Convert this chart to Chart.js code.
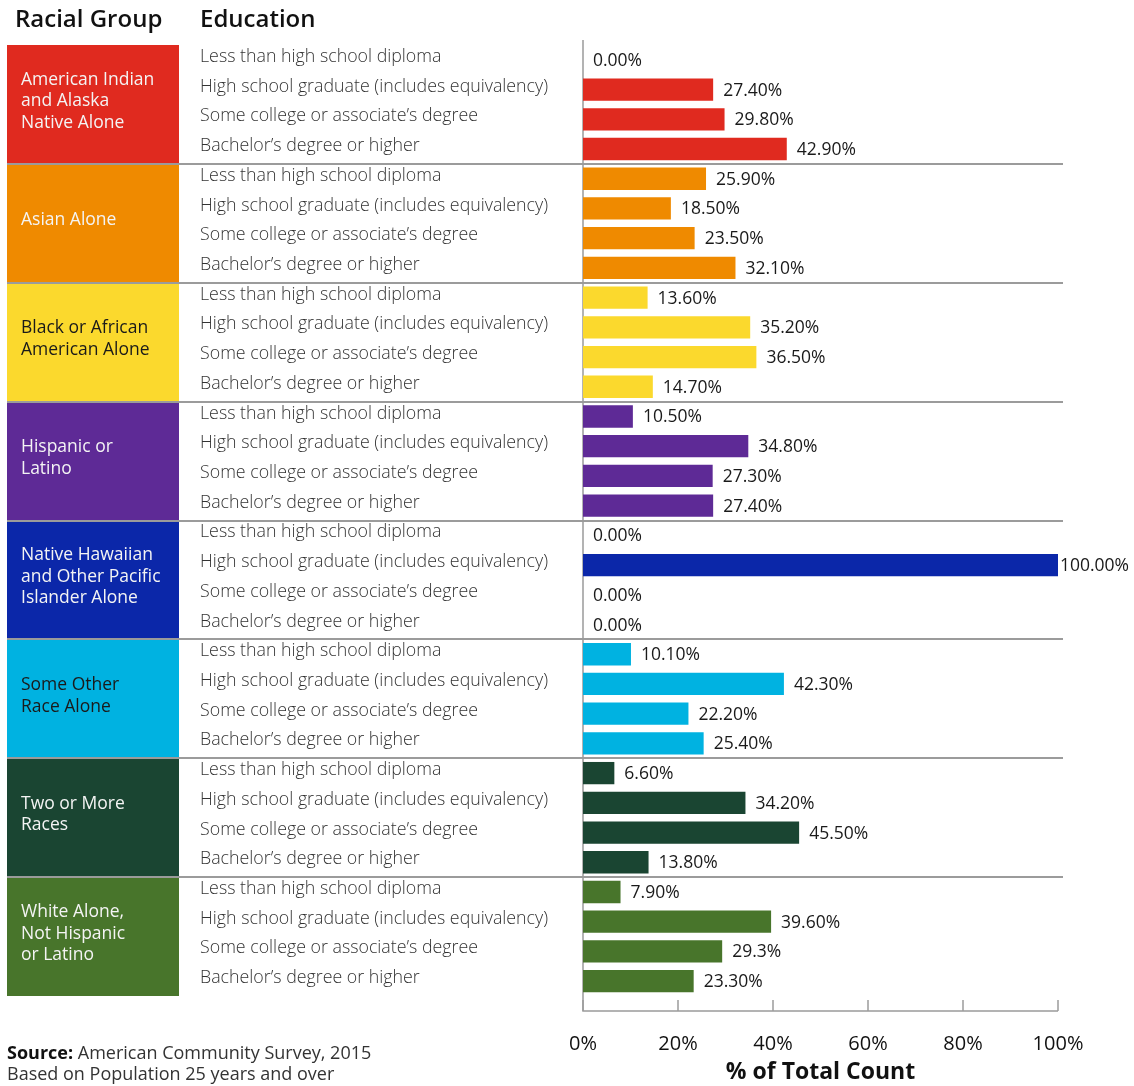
<!DOCTYPE html>
<html>
<head>
<meta charset="utf-8">
<script src="https://cdn.jsdelivr.net/npm/chart.js@4.4.1/dist/chart.umd.min.js"></script>
<style>
  html, body { margin: 0; padding: 0; background: #fff; }
  #wrap { position: relative; width: 1134px; height: 1086px; }
</style>
</head>
<body>
<div id="wrap"><canvas id="eduChart" width="1134" height="1086"></canvas></div>
<script>
// Educational attainment by racial group (ACS 2015)
const educationLevels = [
  "Less than high school diploma",
  "High school graduate (includes equivalency)",
  "Some college or associate’s degree",
  "Bachelor’s degree or higher",
]
const groupNames = [
  ["American Indian", "and Alaska", "Native Alone"],
  ["Asian Alone"],
  ["Black or African", "American Alone"],
  ["Hispanic or", "Latino"],
  ["Native Hawaiian", "and Other Pacific", "Islander Alone"],
  ["Some Other", "Race Alone"],
  ["Two or More", "Races"],
  ["White Alone,", "Not Hispanic", "or Latino"],
]
const groupColors = ["#e02a1f", "#ef8a00", "#fbd92d", "#5e2a96", "#0b27a9", "#00b2e1", "#1a4532", "#48752b"]
const groupTextColors = ["#f4f4f4", "#f4f4f4", "#1a1a1a", "#f4f4f4", "#f4f4f4", "#1a1a1a", "#f4f4f4", "#f4f4f4"]

const americanIndian = [0, 27.4, 29.8, 42.9]
const asian = [25.9, 18.5, 23.5, 32.1]
const black = [13.6, 35.2, 36.5, 14.7]
const hispanic = [10.5, 34.8, 27.3, 27.4]
const nativeHawaiian = [0, 100, 0, 0]
const someOther = [10.1, 42.3, 22.2, 25.4]
const twoOrMore = [6.6, 34.2, 45.5, 13.8]
const white = [7.9, 39.6, 29.3, 23.3]

const xTicks = [0, 20, 40, 60, 80, 100]
// one label in the original is printed with a single decimal
const labelOverrides = { 30: "29.3%" }

const groups = [americanIndian, asian, black, hispanic, nativeHawaiian, someOther, twoOrMore, white]
const values = groups.flat()
const rowLabels = groups.flatMap(() => educationLevels)
const barColors = groups.flatMap((g, i) => g.map(() => groupColors[i]))

const GRAY = "#9b9b9b"

const decorPlugin = {
  id: "decor",
  beforeDatasetsDraw(chart) {
    const { ctx, chartArea, scales } = chart
    const y = scales.y
    const x = scales.x
    const half = (y.getPixelForValue(1) - y.getPixelForValue(0)) / 2
    ctx.save()
    // group boxes
    groups.forEach((g, gi) => {
      const top = gi === 0 ? chartArea.top : y.getPixelForValue(gi * 4) - half
      const bottom = gi === groups.length - 1 ? chartArea.bottom : y.getPixelForValue(gi * 4 + 3) + half
      ctx.fillStyle = groupColors[gi]
      ctx.fillRect(7, top, 172, bottom - top)
      const lines = groupNames[gi]
      const lh = 21.5
      const mid = (top + bottom) / 2 - 3
      ctx.fillStyle = groupTextColors[gi]
      ctx.font = "17.5px 'Open Sans'"
      ctx.textAlign = "left"
      ctx.textBaseline = "middle"
      lines.forEach((t, li) => {
        ctx.fillText(t, 21, mid + (li - (lines.length - 1) / 2) * lh)
      })
    })
    // separators
    ctx.strokeStyle = GRAY
    ctx.lineWidth = 2
    for (let gi = 1; gi < groups.length; gi++) {
      const yy = Math.round(y.getPixelForValue(gi * 4) - half)
      ctx.beginPath()
      ctx.moveTo(7, yy)
      ctx.lineTo(chartArea.right + 5, yy)
      ctx.stroke()
    }
    // axes
    const axisY = chartArea.bottom + 15
    const x0 = x.getPixelForValue(0)
    ctx.lineWidth = 1.5
    ctx.beginPath()
    ctx.moveTo(x0, chartArea.top - 5)
    ctx.lineTo(x0, axisY)
    ctx.lineTo(x.getPixelForValue(100), axisY)
    ctx.stroke()
    xTicks.forEach(t => {
      const px = x.getPixelForValue(t)
      ctx.beginPath()
      ctx.moveTo(px, axisY)
      ctx.lineTo(px, axisY - 11)
      ctx.stroke()
    })
    // headers
    ctx.fillStyle = "#111"
    ctx.font = "600 24px 'Open Sans'"
    ctx.fillText("Racial Group", 15, 20)
    ctx.fillText("Education", 200, 20)
    // source note
    ctx.font = "bold 18px 'Open Sans'"
    ctx.fillStyle = "#111"
    ctx.fillText("Source:", 7, 1054)
    const w = ctx.measureText("Source: ").width
    ctx.font = "18px 'Open Sans'"
    ctx.fillStyle = "#333"
    ctx.fillText("American Community Survey, 2015", 7 + w, 1054)
    ctx.fillText("Based on Population 25 years and over", 7, 1075)
    ctx.restore()
  },
  afterDatasetsDraw(chart) {
    const { ctx } = chart
    const meta = chart.getDatasetMeta(0)
    ctx.save()
    ctx.font = "17.5px 'Open Sans'"
    ctx.fillStyle = "#1a1a1a"
    ctx.textAlign = "left"
    ctx.textBaseline = "middle"
    meta.data.forEach((bar, i) => {
      const txt = labelOverrides[i] || values[i].toFixed(2) + "%"
      const tw = ctx.measureText(txt).width
      const lx = Math.min(bar.x + 10, chart.width - 5 - tw)
      ctx.fillText(txt, lx, bar.y + 1)
    })
    ctx.restore()
  },
}

new Chart(document.getElementById("eduChart"), {
  type: "bar",
  data: {
    labels: rowLabels,
    datasets: [
      {
        data: values,
        backgroundColor: barColors,
        barPercentage: 0.75,
        categoryPercentage: 1,
      },
    ],
  },
  options: {
    indexAxis: "y",
    responsive: false,
    animation: false,
    layout: { padding: { left: 200, top: 45, right: 76, bottom: 0 } },
    plugins: {
      legend: { display: false },
      tooltip: { enabled: false },
    },
    scales: {
      x: {
        min: 0,
        max: 100,
        afterFit: s => { s.height = 90 },
        afterBuildTicks: s => { s.ticks = xTicks.map(v => ({ value: v })) },
        grid: { display: false, drawTicks: false },
        border: { display: false },
        ticks: {
          padding: 36,
          color: "#111",
          font: { family: "'Open Sans'", size: 20 },
          callback: v => v + "%",
        },
        title: {
          display: true,
          text: "% of Total Count",
          color: "#111",
          font: { family: "'Open Sans'", size: 23, weight: "bold" },
          padding: { top: 3, bottom: 0 },
        },
      },
      y: {
        afterFit: s => { s.width = 383 },
        grid: { display: false, drawTicks: false },
        border: { display: false },
        ticks: {
          autoSkip: false,
          crossAlign: "far",
          labelOffset: -3,
          color: "#333",
          font: { family: "'Open Sans'", size: 17.8, weight: "300" },
        },
      },
    },
  },
  plugins: [decorPlugin],
})
</script>
</body>
</html>
